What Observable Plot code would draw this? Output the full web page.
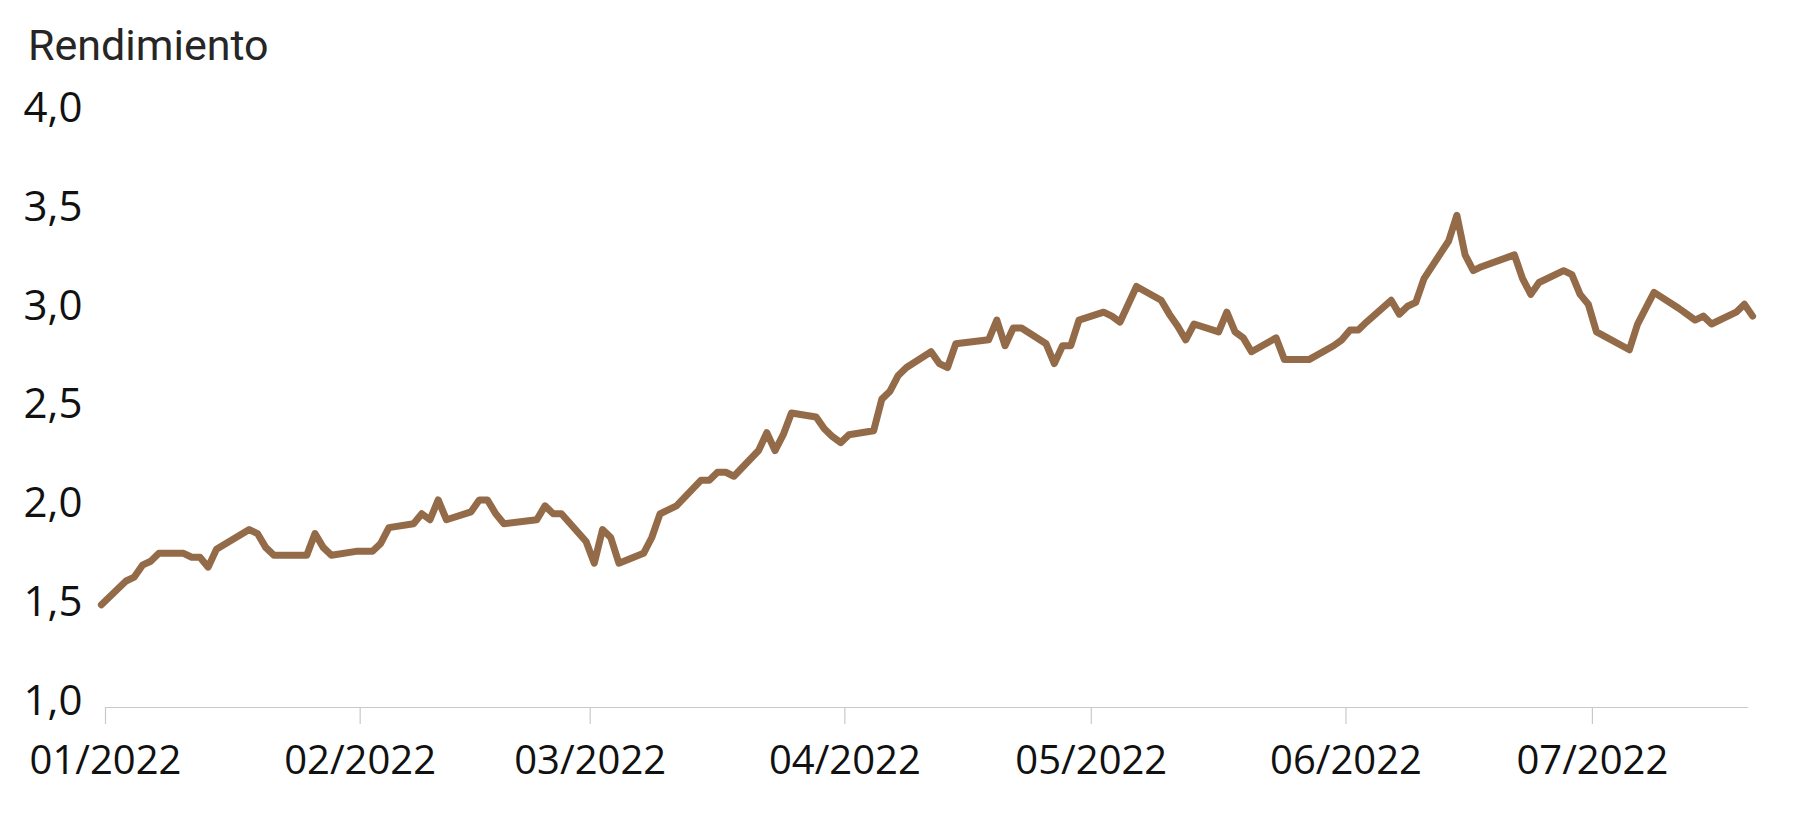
<!DOCTYPE html>
<html><head><meta charset="utf-8">
<script src="https://cdn.jsdelivr.net/npm/d3@7"></script>
<script src="https://cdn.jsdelivr.net/npm/@observablehq/plot@0.6"></script>
<style>
html,body{margin:0;padding:0;background:#fff;}
#title{font-family:Roboto,sans-serif;font-size:43px;line-height:43px;color:#262626;padding:24px 0 0 28px;height:56px;box-sizing:content-box;}
#chart svg{display:block;}
</style></head><body>
<div id="title">Rendimiento</div>
<div id="chart"></div>
<script>
const dates = [
"2021-12-31","2022-01-03","2022-01-04","2022-01-05","2022-01-06","2022-01-07",
"2022-01-10","2022-01-11","2022-01-12","2022-01-13","2022-01-14",
"2022-01-18","2022-01-19","2022-01-20","2022-01-21",
"2022-01-24","2022-01-25","2022-01-26","2022-01-27","2022-01-28",
"2022-01-31","2022-02-01","2022-02-02","2022-02-03","2022-02-04",
"2022-02-07","2022-02-08","2022-02-09","2022-02-10","2022-02-11",
"2022-02-14","2022-02-15","2022-02-16","2022-02-17","2022-02-18",
"2022-02-22","2022-02-23","2022-02-24","2022-02-25",
"2022-02-28","2022-03-01","2022-03-02","2022-03-03","2022-03-04",
"2022-03-07","2022-03-08","2022-03-09","2022-03-10","2022-03-11",
"2022-03-14","2022-03-15","2022-03-16","2022-03-17","2022-03-18",
"2022-03-21","2022-03-22","2022-03-23","2022-03-24","2022-03-25",
"2022-03-28","2022-03-29","2022-03-30","2022-03-31","2022-04-01",
"2022-04-04","2022-04-05","2022-04-06","2022-04-07","2022-04-08",
"2022-04-11","2022-04-12","2022-04-13","2022-04-14",
"2022-04-18","2022-04-19","2022-04-20","2022-04-21","2022-04-22",
"2022-04-25","2022-04-26","2022-04-27","2022-04-28","2022-04-29",
"2022-05-02","2022-05-03","2022-05-04","2022-05-05","2022-05-06",
"2022-05-09","2022-05-10","2022-05-11","2022-05-12","2022-05-13",
"2022-05-16","2022-05-17","2022-05-18","2022-05-19","2022-05-20",
"2022-05-23","2022-05-24","2022-05-25","2022-05-26","2022-05-27",
"2022-05-30","2022-05-31","2022-06-01","2022-06-02","2022-06-03",
"2022-06-06","2022-06-07","2022-06-08","2022-06-09","2022-06-10",
"2022-06-13","2022-06-14","2022-06-15","2022-06-16","2022-06-17",
"2022-06-21","2022-06-22","2022-06-23","2022-06-24",
"2022-06-27","2022-06-28","2022-06-29","2022-06-30","2022-07-01",
"2022-07-05","2022-07-06","2022-07-07","2022-07-08",
"2022-07-11","2022-07-12","2022-07-13","2022-07-14","2022-07-15",
"2022-07-18","2022-07-19","2022-07-20"
];
const values = [
1.52,1.64,1.66,1.72,1.74,1.78,
1.78,1.76,1.76,1.71,1.80,
1.90,1.88,1.81,1.77,
1.77,1.77,1.88,1.81,1.77,
1.79,1.79,1.79,1.83,1.91,
1.93,1.98,1.95,2.05,1.95,
1.99,2.05,2.05,1.98,1.93,
1.95,2.02,1.98,1.98,
1.84,1.73,1.90,1.86,1.73,
1.78,1.86,1.98,2.00,2.02,
2.15,2.15,2.19,2.19,2.17,
2.30,2.39,2.30,2.38,2.49,
2.47,2.41,2.37,2.34,2.38,
2.40,2.56,2.60,2.68,2.72,
2.80,2.74,2.72,2.84,
2.86,2.96,2.83,2.92,2.92,
2.84,2.74,2.83,2.83,2.96,
3.00,2.98,2.95,3.04,3.13,
3.06,2.99,2.93,2.86,2.94,
2.90,3.00,2.90,2.87,2.80,
2.87,2.76,2.76,2.76,2.76,
2.83,2.86,2.91,2.91,2.95,
3.06,2.99,3.03,3.05,3.17,
3.36,3.49,3.29,3.21,3.23,
3.29,3.17,3.09,3.15,
3.21,3.19,3.09,3.04,2.90,
2.81,2.94,3.02,3.10,
3.02,2.99,2.96,2.98,2.94,
3.00,3.04,2.98
];
const monthTicks = ["2022-01-01","2022-02-01","2022-03-01","2022-04-01","2022-05-01","2022-06-01","2022-07-01"];
const monthLabels = ["01/2022","02/2022","03/2022","04/2022","05/2022","06/2022","07/2022"];
const yTicks = [1, 1.5, 2, 2.5, 3, 3.5, 4];
const yLabels = ["1,0","1,5","2,0","2,5","3,0","3,5","4,0"];

const data = dates.map((d, i) => ({date: new Date(d + "T12:00:00Z"), value: values[i]}));
const tickDates = monthTicks.map(d => new Date(d + "T00:00:00Z"));

const chart = Plot.plot({
  width: 1800,
  height: 737,
  marginTop: 34,
  marginBottom: 110,
  marginLeft: 105,
  marginRight: 52,
  style: {fontFamily: "'Open Sans', sans-serif", background: "#fff", overflow: "visible"},
  x: {type: "utc", domain: [new Date("2022-01-01T00:00:00Z"), new Date("2022-07-20T00:00:00Z")]},
  y: {domain: [1, 4], axis: null},
  marks: [
    Plot.ruleY([1], {stroke: "#c9c9c9", strokeWidth: 1.2}),
    Plot.axisX({
      ticks: tickDates,
      tickFormat: d => monthLabels[tickDates.findIndex(t => +t === +d)],
      tickSize: 17, tickPadding: 21,
      stroke: "#c9c9c9", strokeWidth: 1.2, fill: "#111",
      fontSize: 40, label: null
    }),
    Plot.text(yTicks, {
      y: d => d,
      text: (d, i) => yLabels[i],
      frameAnchor: "left", textAnchor: "start",
      dx: -82, dy: -6, fontSize: 42, fill: "#111"
    }),
    Plot.lineY(data, {
      x: "date", y: "value",
      stroke: "#946b48", strokeWidth: 7,
      strokeLinejoin: "round", strokeLinecap: "round"
    })
  ]
});
document.getElementById("chart").appendChild(chart);
</script>
</body></html>
